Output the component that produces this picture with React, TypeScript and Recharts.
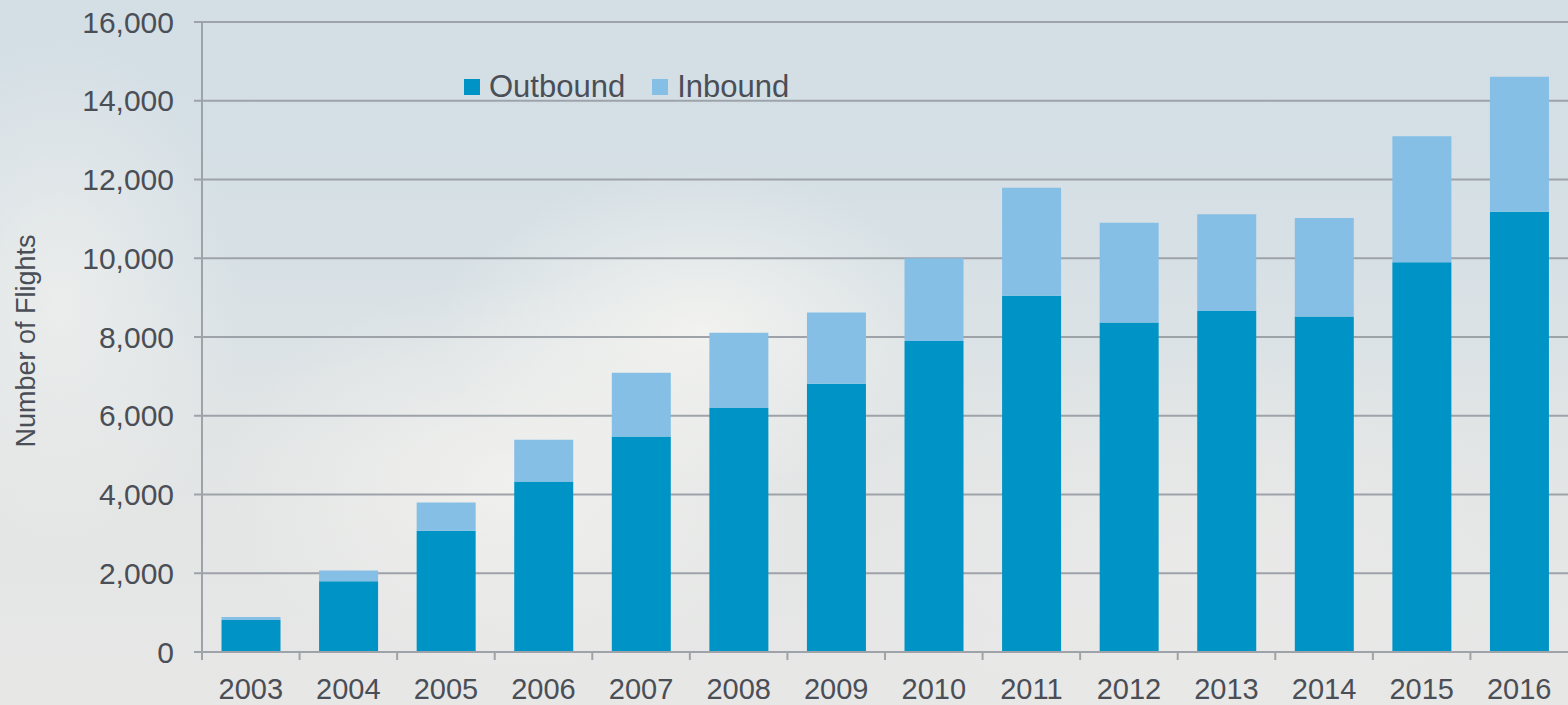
import React from 'react';
import { BarChart, Bar, XAxis, YAxis, CartesianGrid, Legend } from 'recharts';

const years = ['2003', '2004', '2005', '2006', '2007', '2008', '2009', '2010', '2011', '2012', '2013', '2014', '2015', '2016'];
const outbound = [810, 1800, 3080, 4330, 5470, 6200, 6810, 7900, 9050, 8370, 8660, 8520, 9900, 11180];
const inbound = [80, 270, 720, 1060, 1620, 1910, 1810, 2100, 2740, 2530, 2460, 2500, 3200, 3430];
const yTicks = [0, 2000, 4000, 6000, 8000, 10000, 12000, 14000, 16000];

const data = years.map((y, i) => ({ year: y, Outbound: outbound[i], Inbound: inbound[i] }));

const W = 1568;
const H = 705;
const Y_AXIS_W = 202;
const BAND = (W - Y_AXIS_W) / years.length;
const TEXT = '#4a4e56';
const GRID = '#9ea3aa';
const OUT_C = '#0093c6';
const IN_C = '#85bfe5';
const FONT = '"Liberation Sans", Arial, sans-serif';

const XTick = (props: any) => {
  const { x, y, payload } = props;
  return (
    <g>
      <line x1={x - BAND / 2} x2={x - BAND / 2} y1={y} y2={y + 8} stroke={GRID} strokeWidth={2} />
      <text x={x} y={y + 37} textAnchor="middle" dominantBaseline="central" fill={TEXT} fontSize={29} fontFamily={FONT}>
        {payload.value}
      </text>
    </g>
  );
};

const YLabel = (props: any) => {
  const vb = props.viewBox || {};
  const cy = (vb.y ?? 22) + (vb.height ?? 630) / 2 + 4;
  return (
    <text
      x={26}
      y={cy}
      transform={`rotate(-90, 26, ${cy})`}
      textAnchor="middle"
      dominantBaseline="central"
      fill={TEXT}
      fontSize={27}
      fontFamily={FONT}
    >
      Number of Flights
    </text>
  );
};

const LegendContent = () => (
  <div style={{ display: 'flex', alignItems: 'center', fontFamily: FONT, fontSize: 31, color: TEXT, lineHeight: '30px', whiteSpace: 'nowrap' }}>
    <span style={{ display: 'inline-block', width: 16, height: 16, background: OUT_C, marginRight: 9 }} />
    <span style={{ marginRight: 27 }}>Outbound</span>
    <span style={{ display: 'inline-block', width: 16, height: 16, background: IN_C, marginRight: 9 }} />
    <span>Inbound</span>
  </div>
);

export default function App() {
  return (
    <div
      style={{
        position: 'absolute',
        left: 0,
        top: 0,
        width: W,
        height: H,
        overflow: 'hidden',
        background:
          'radial-gradient(ellipse 260px 160px at 700px 330px, rgba(246,245,241,0.85), rgba(246,245,241,0) 100%),' +
          'radial-gradient(ellipse 300px 200px at 520px 480px, rgba(244,243,240,0.8), rgba(244,243,240,0) 100%),' +
          'radial-gradient(ellipse 180px 260px at 60px 300px, rgba(240,240,238,0.8), rgba(240,240,238,0) 100%),' +
          'radial-gradient(ellipse 400px 200px at 1200px 560px, rgba(236,236,234,0.6), rgba(236,236,234,0) 100%),' +
          'linear-gradient(180deg, #d3dee5 0%, #d6e0e5 35%, #e2e5e5 65%, #e7e7e6 100%)',
      }}
    >
      <BarChart
        width={W}
        height={H}
        data={data}
        margin={{ top: 22, right: 0, bottom: 0, left: 0 }}
        barCategoryGap="20%"
      >
        <CartesianGrid vertical={false} stroke={GRID} strokeWidth={2} />
        <XAxis
          dataKey="year"
          height={53}
          tickSize={0}
          tickMargin={0}
          tickLine={false}
          axisLine={{ stroke: GRID, strokeWidth: 2 }}
          tick={<XTick />}
          interval={0}
        />
        <YAxis
          width={Y_AXIS_W}
          domain={[0, 16000]}
          ticks={yTicks}
          tickSize={8}
          tickMargin={20}
          tickLine={{ stroke: GRID, strokeWidth: 2 }}
          axisLine={{ stroke: GRID, strokeWidth: 2 }}
          tickFormatter={(v: number) => v.toLocaleString('en-US')}
          tick={{ fill: TEXT, fontSize: 30, fontFamily: FONT }}
          label={<YLabel />}
        />
        <Legend
          layout="horizontal"
          verticalAlign="middle"
          align="center"
          content={<LegendContent />}
          wrapperStyle={{ top: 72, left: 464, width: 'auto', height: 30 }}
        />
        <Bar dataKey="Outbound" stackId="a" fill={OUT_C} isAnimationActive={false} />
        <Bar dataKey="Inbound" stackId="a" fill={IN_C} isAnimationActive={false} />
      </BarChart>
    </div>
  );
}
